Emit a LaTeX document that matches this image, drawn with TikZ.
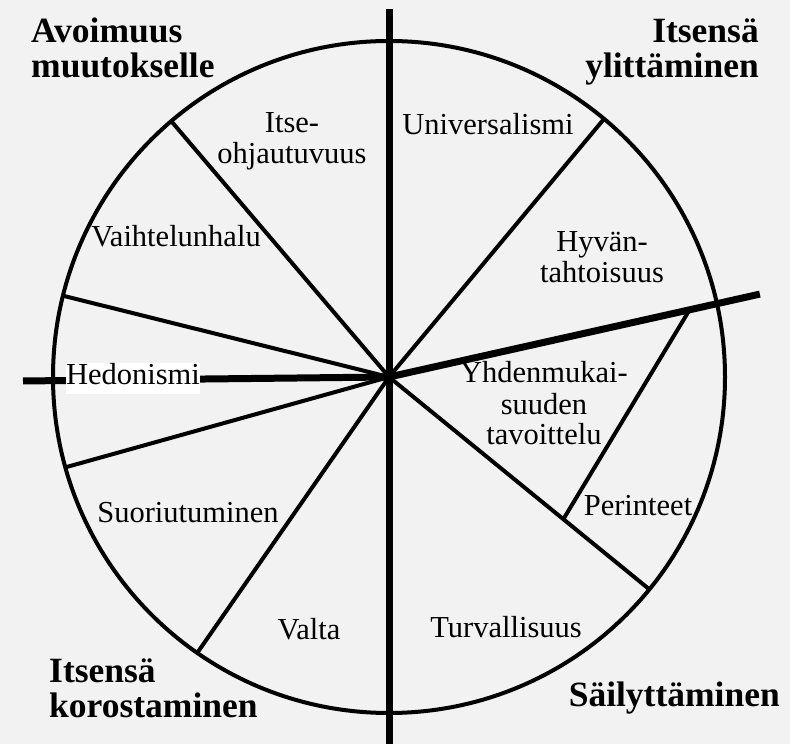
\documentclass[tikz,border=0pt]{standalone}
\usepackage{fontspec}
\setmainfont{Liberation Serif}
\usetikzlibrary{calc}
\definecolor{bg}{HTML}{F2F2F2}
\begin{document}
\begin{tikzpicture}[x=1pt,y=1pt,
  thinline/.style={line width=4pt, black},
  thickline/.style={line width=7pt, black},
  lab/.style={anchor=base, inner sep=0pt, font=\fontsize{30.5}{31}\selectfont},
  headW/.style={anchor=base west, inner sep=0pt, font=\fontsize{35.5}{35}\selectfont\bfseries},
  headE/.style={anchor=base east, inner sep=0pt, font=\fontsize{35.5}{35}\selectfont\bfseries}]
\useasboundingbox[fill=bg] (0,0) rectangle (790,744);
\coordinate (c) at (389,367);
\coordinate (vt) at (389,735);
\coordinate (vb) at (389,-10);
\coordinate (hl) at (23,363);
\coordinate (hr) at ($(c)+(12.6:380)$);
\coordinate (r1) at ($(c)+(130.4:336)$);
\coordinate (r2) at ($(c)+(50.2:336)$);
\coordinate (r3) at ($(c)+(166:336)$);
\coordinate (r4) at ($(c)+(195.6:336)$);
\coordinate (r5) at ($(c)+(235.2:336)$);
\coordinate (r6) at ($(c)+(-39.2:336)$);
\coordinate (p1) at ($(c)+(12.6:308)$);
\coordinate (p2) at ($(c)+(-39.2:225)$);
% circle and radials
\draw[thinline] (c) circle[radius=336];
\foreach \r in {r1,r2,r3,r4,r5,r6} \draw[thinline] (c) -- (\r);
\draw[thinline] (p1) -- (p2);
% axes
\draw[thickline] (vt) -- (vb);
\draw[thickline] (hl) -- (c) -- (hr);
% headings
\node[headW] (h1a) at (31,701) {Avoimuus};
\node[headW] (h1b) at (31,666) {muutokselle};
\node[headE] (h2a) at (759,701) {Itsensä};
\node[headE] (h2b) at (759,666) {ylittäminen};
\node[headW] (h3a) at (49,61) {Itsensä};
\node[headW] (h3b) at (49,26) {korostaminen};
\node[headE] (h4) at (780,37) {Säilyttäminen};
% labels
\node[lab] (l1a) at (292,611) {Itse-};
\node[lab] (l1b) at (292,580) {ohjautuvuus};
\node[lab] (l2) at (176,497) {Vaihtelunhalu};
\node[lab, fill=white, text height=22pt, text depth=9pt] (l3) at (133,359) {Hedonismi};
\node[lab] (l4) at (188,221) {Suoriutuminen};
\node[lab] (l5) at (309,104) {Valta};
\node[lab] (l6) at (488,609) {Universalismi};
\node[lab] (l7a) at (602,492) {Hyvän-};
\node[lab] (l7b) at (602,461) {tahtoisuus};
\node[lab] (l8a) at (544,361) {Yhdenmukai-};
\node[lab] (l8b) at (544,329) {suuden};
\node[lab] (l8c) at (544,299) {tavoittelu};
\node[lab] (l9) at (638,228) {Perinteet};
\node[lab] (l10) at (506,106) {Turvallisuus};
\end{tikzpicture}
\end{document}
